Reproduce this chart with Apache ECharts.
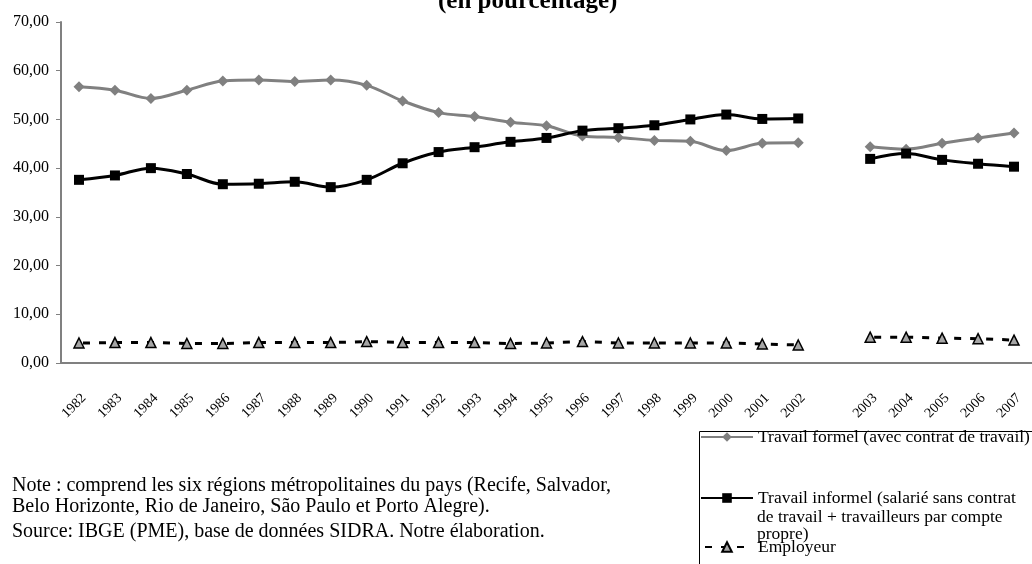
<!DOCTYPE html>
<html>
<head>
<meta charset="utf-8">
<script src="https://cdn.jsdelivr.net/npm/echarts@6/dist/echarts.min.js"></script>
<style>
  html, body { margin: 0; padding: 0; background: #fff; }
  #chart { width: 1032px; height: 564px; }
</style>
</head>
<body>
<div id="chart"></div>
<script>
const years = ['1982', '1983', '1984', '1985', '1986', '1987', '1988', '1989', '1990', '1991',
  '1992', '1993', '1994', '1995', '1996', '1997', '1998', '1999', '2000', '2001', '2002',
  '', '2003', '2004', '2005', '2006', '2007']

const formel = [56.7, 56.0, 54.3, 56.0, 57.9, 58.1, 57.8, 58.1, 57.0, 53.8,
  51.4, 50.6, 49.4, 48.7, 46.6, 46.3, 45.7, 45.5, 43.6, 45.1, 45.2,
  null, 44.4, 43.9, 45.1, 46.2, 47.2]
const informel = [37.6, 38.5, 40.0, 38.8, 36.7, 36.8, 37.2, 36.1, 37.6, 41.0,
  43.3, 44.3, 45.4, 46.2, 47.7, 48.2, 48.8, 50.0, 51.0, 50.1, 50.2,
  null, 41.9, 43.0, 41.7, 40.9, 40.3]
const employeur = [4.1, 4.2, 4.2, 4.0, 4.0, 4.2, 4.2, 4.2, 4.4, 4.2,
  4.2, 4.2, 4.0, 4.1, 4.4, 4.1, 4.1, 4.1, 4.1, 3.9, 3.7,
  null, 5.3, 5.3, 5.1, 5.0, 4.7]

const yTicks = [0, 70, 10] // min, max, interval

const nameFormel = 'Travail formel (avec contrat de travail)'
const nameInformel = 'Travail informel (salarié sans contrat de travail + travailleurs par compte propre)'
const nameEmployeur = 'Employeur'
// suite du libellé de la 2e entrée de légende
const informelMore = ['de travail + travailleurs par compte', 'propre)']

const serif = '"Liberation Serif", "Times New Roman", serif'
const noteLines = [
  'Note : comprend les six régions métropolitaines du pays (Recife, Salvador,',
  'Belo Horizonte, Rio de Janeiro, São Paulo et Porto Alegre).',
  'Source: IBGE (PME), base de données SIDRA. Notre élaboration.'
]

const chart = echarts.init(document.getElementById('chart'))

// une légende par série pour placer chaque entrée librement
const legendItem = (name, top) => ({
  data: [name],
  left: 700,
  top: top,
  orient: 'vertical',
  selectedMode: false,
  itemWidth: 52,
  itemHeight: 12,
  padding: 0,
  textStyle: { fontFamily: serif, fontSize: 17.5, color: '#000' }
})

const option = {
  animation: false,
  title: {
    text: '(en pourcentage)',
    left: 433,
    top: -16,
    textStyle: { fontFamily: serif, fontSize: 25, fontWeight: 'bold', color: '#000' }
  },
  grid: {
    left: 61,
    top: 22,
    width: 979.6,
    height: 341
  },
  legend: [
    legendItem(nameFormel, 428),
    {
      ...legendItem(nameInformel, 489),
      formatter: () => 'Travail informel (salarié sans contrat'
    },
    legendItem(nameEmployeur, 538)
  ],
  xAxis: {
    type: 'category',
    data: years,
    boundaryGap: true,
    axisLine: { lineStyle: { color: '#808080', width: 2 } },
    axisTick: { length: 5, lineStyle: { color: '#808080', width: 1 } },
    axisLabel: {
      interval: 0,
      rotate: 45,
      margin: 28,
      verticalAlign: 'top',
      fontFamily: serif,
      fontSize: 14,
      color: '#000'
    }
  },
  yAxis: {
    type: 'value',
    min: yTicks[0],
    max: yTicks[1],
    interval: yTicks[2],
    axisLine: { show: true, lineStyle: { color: '#808080', width: 2 } },
    axisTick: { show: true, length: 5, lineStyle: { color: '#808080', width: 1 } },
    splitLine: { show: false },
    axisLabel: {
      margin: 12,
      fontFamily: serif,
      fontSize: 16,
      color: '#000',
      formatter: v => v.toFixed(2).replace('.', ',')
    }
  },
  series: [
    {
      name: nameFormel,
      type: 'line',
      data: formel,
      smooth: 0.35,
      connectNulls: false,
      symbol: 'diamond',
      symbolSize: 11,
      itemStyle: { color: '#808080' },
      lineStyle: { color: '#808080', width: 3 }
    },
    {
      name: nameInformel,
      type: 'line',
      data: informel,
      smooth: 0.35,
      connectNulls: false,
      symbol: 'rect',
      symbolSize: 10,
      itemStyle: { color: '#000' },
      lineStyle: { color: '#000', width: 3 }
    },
    {
      name: nameEmployeur,
      type: 'line',
      data: employeur,
      connectNulls: false,
      symbol: 'triangle',
      symbolSize: 10,
      itemStyle: { color: '#a6a6a6', borderColor: '#000', borderWidth: 1.5 },
      lineStyle: { color: '#000', width: 3, type: [7, 9], dashOffset: 12 }
    }
  ],
  graphic: [
    // cadre de la légende (coupé à droite et en bas)
    {
      type: 'rect',
      shape: { x: 699.5, y: 431.5, width: 400, height: 200 },
      style: { fill: null, stroke: '#000', lineWidth: 1 },
      silent: true
    },
    ...informelMore.map((t, i) => ({
      type: 'text',
      left: 757,
      top: [508, 525][i],
      style: { text: t, fontFamily: serif, fontSize: 17.5, fill: '#000' }
    })),
    ...noteLines.map((t, i) => ({
      type: 'text',
      left: 12,
      top: [476, 497, 522][i],
      style: { text: t, fontFamily: serif, fontSize: 20, fill: '#000' }
    }))
  ]
}

chart.setOption(option)
</script>
</body>
</html>
